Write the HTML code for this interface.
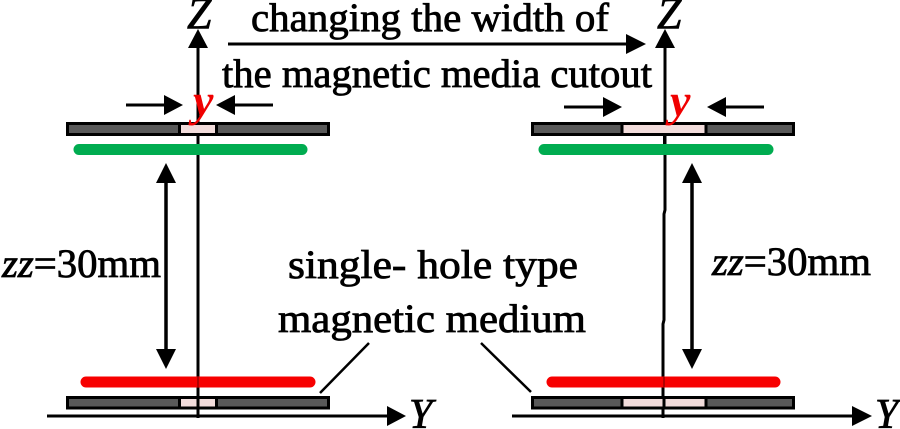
<!DOCTYPE html>
<html><head><meta charset="utf-8"><style>html,body{margin:0;padding:0;background:#fff}svg{display:block}text{font-family:"Liberation Serif",serif;fill:#000}</style></head><body>
<svg width="900" height="429" viewBox="0 0 900 429" xmlns="http://www.w3.org/2000/svg">
<g stroke="#000" stroke-width="3" fill="none">
<path d="M198 46V418M665 46V210L664 214V320L663 324V418"/>
<path d="M47 416H392M512 416H858"/>
<path d="M228 44H630"/>
<path d="M166 180V352M692 180V352" stroke-width="3.500"/>
<path d="M126 105H168M273 105H232M564 107H606M764 107H724"/>
<path d="M320 393L369 343M531 392L481 343" stroke-width="2.500"/>
</g>
<g fill="#000">
<path d="M198 29L208 48H188ZM665 29L675 48H655Z"/>
<path d="M406 416L387 406V426ZM872 416L852 406V426Z"/>
<path d="M646 44L626 34V54Z"/>
<path d="M166 163L176 183H156ZM166 369L176 349H156ZM692 163L702 183H682ZM692 369L702 349H682Z"/>
<path d="M183 105L164 95V115ZM216 105L235 95V115ZM622 107L603 97V117ZM707 107L726 97V117Z"/>
</g>
<g stroke="#000" stroke-width="3">
<rect x="67.500" y="123.500" width="261" height="11" fill="#595959"/>
<rect x="532.500" y="123.500" width="261" height="11" fill="#595959"/>
<rect x="67.500" y="397.500" width="261" height="10.500" fill="#595959"/>
<rect x="532.500" y="397.500" width="261" height="10.500" fill="#595959"/>
<rect x="179.500" y="123.500" width="37" height="11" fill="#f2dcdb"/>
<rect x="622" y="123.500" width="84" height="11" fill="#f2dcdb"/>
<rect x="179.500" y="397.500" width="37" height="10.500" fill="#f2dcdb"/>
<rect x="622" y="397.500" width="84" height="10.500" fill="#f2dcdb"/>
</g>
<path d="M198 135V144M664.500 135V144M198 396V409M664 396V409" stroke="#000" stroke-width="3"/>
<g stroke-linecap="round" stroke-width="11" fill="none">
<path d="M79 149.500H302M544 149.500H768" stroke="#00ac50"/>
<path d="M86 382H310M552 382H775" stroke="#f70000"/>
</g>
<path d="M198 377V387M664 377V387" stroke="#b00000" stroke-width="2"/>
<g font-size="40" style="stroke:#000;stroke-width:.8px">
<text x="251" y="31" textLength="358" lengthAdjust="spacingAndGlyphs">changing the width of</text>
<text x="222" y="87" textLength="430" lengthAdjust="spacingAndGlyphs">the magnetic media cutout</text>
<text x="288" y="278" textLength="290" lengthAdjust="spacingAndGlyphs">single- hole type</text>
<text x="278" y="332" textLength="308" lengthAdjust="spacingAndGlyphs">magnetic medium</text>
<text x="2" y="277" textLength="159" lengthAdjust="spacingAndGlyphs"><tspan font-style="italic">zz</tspan>=30mm</text>
<text x="712" y="275" textLength="159" lengthAdjust="spacingAndGlyphs"><tspan font-style="italic">zz</tspan>=30mm</text>
<text x="187" y="28" font-style="italic" font-size="44">Z</text>
<text x="657" y="28" font-style="italic" font-size="44">Z</text>
<text x="409" y="428" font-style="italic" font-size="42">Y</text>
<text x="875" y="428" font-style="italic" font-size="42">Y</text>
</g>
<g font-size="46" font-style="italic" font-weight="bold">
<text x="193" y="116" style="fill:#f00000">y</text>
<text x="670" y="116" style="fill:#f00000">y</text>
</g>
</svg>
</body></html>
